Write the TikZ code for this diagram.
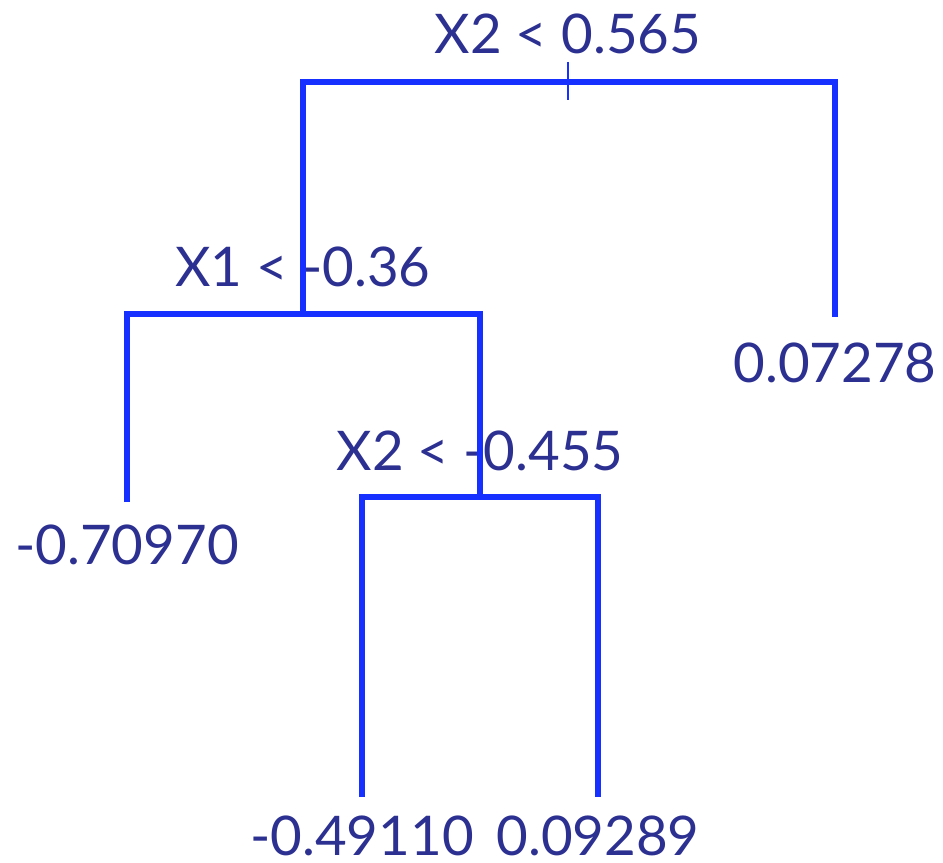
\documentclass[tikz,border=0pt]{standalone}
\usepackage{fontspec}
\setmainfont{Lato}
\usepackage{tikz}
\usetikzlibrary{positioning}
\definecolor{treeblue}{RGB}{22,48,255}
\definecolor{treenavy}{RGB}{44,48,145}

\begin{document}
\begin{tikzpicture}[
    x=0.75pt, y=-0.75pt,
    branch/.style={draw=treeblue, line width=4.8pt, line join=miter},
    tick/.style={draw=treeblue, line width=1.4pt},
    splitlbl/.style={font=\fontsize{41}{44}\selectfont, text=treenavy,
                     inner sep=0pt, anchor=south},
    leaflbl/.style={font=\fontsize{41}{44}\selectfont, text=treenavy,
                    inner sep=0pt, anchor=north}
  ]
  \useasboundingbox (0,0) rectangle (943,863);

  % Split points
  \coordinate (n1) at (568,82);
  \coordinate (n2) at (303,314);
  \coordinate (n3) at (480,497);

  % Leaf ends
  \coordinate (leafA) at (127,502);
  \coordinate (leafB) at (362,797);
  \coordinate (leafC) at (598,797);
  \coordinate (leafD) at (835,317);

  % Split labels
  \node[splitlbl, above=21pt of n1] (s1) {X2 < 0.565};
  \node[splitlbl, above=20pt of n2] (s2) {X1 < -0.36};
  \node[splitlbl, above=19pt of n3] (s3) {X2 < -0.455};

  % Leaf labels
  \node[leaflbl, below=17pt of leafA] (vA) {-0.70970};
  \node[leaflbl, below=14pt of leafB] (vB) {-0.49110};
  \node[leaflbl, below=14pt of leafC] (vC) {0.09289};
  \node[leaflbl, below=19pt of leafD] (vD) {0.07278};

  % Branches
  \draw[branch] (n2) |- (n1) -| (leafD);
  \draw[branch] (leafA) |- (n2) -| (n3);
  \draw[branch] (leafB) |- (n3) -| (leafC);
  \draw[tick] (n1) ++(0,-20) -- ++(0,38);
\end{tikzpicture}
\end{document}
